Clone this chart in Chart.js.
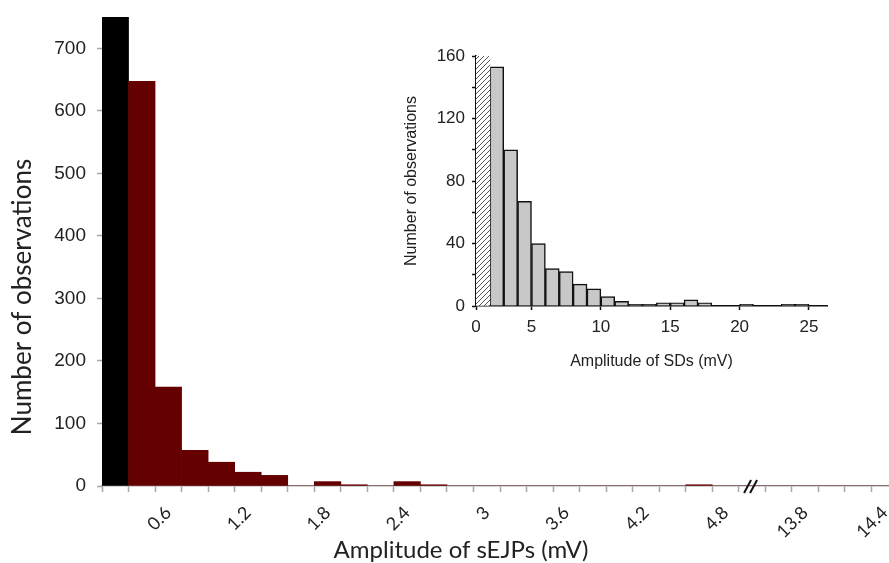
<!DOCTYPE html>
<html>
<head>
<meta charset="utf-8">
<script src="https://cdn.jsdelivr.net/npm/chart.js@4"></script>
<style>
  html, body { margin: 0; padding: 0; background: #fff; overflow: hidden; }
  #wrap { position: relative; width: 889px; height: 563px; }
  #main { position: absolute; left: 0; top: 0; }
  #inset { position: absolute; left: 390px; top: 40px; }
</style>
</head>
<body>
<div id="wrap">
  <canvas id="main" width="900" height="563"></canvas>
  <canvas id="inset" width="450" height="340"></canvas>
</div>
<script>
// main histogram: sEJP amplitude bins (upper bound of each 0.2 mV bin, axis broken after 4.8)
const sejpBins = ['0.2', '0.4', '0.6', '0.8', '1', '1.2', '1.4', '1.6', '1.8', '2', '2.2', '2.4',
  '2.6', '2.8', '3', '3.2', '3.4', '3.6', '3.8', '4', '4.2', '4.4', '4.6', '4.8',
  '', '13.6', '13.8', '14', '14.2', '14.4'];
const sejpCounts = [750, 647, 158, 57, 38, 22, 17, 0, 7, 2, 0, 7, 2, 0, 0, 0, 0, 0, 0, 0, 0, 0, 2, 0,
  0, 0, 0, 0, 0, 0];
const sejpYTicks = [0, 100, 200, 300, 400, 500, 600, 700];

// inset histogram: SD amplitudes, 1 mV bins starting at 2 mV (below 2 mV hatched)
const sdBinStart = [2, 3, 4, 5, 6, 7, 8, 9, 10, 11, 12, 13, 14, 15, 16, 17, 18, 19, 20, 21, 22, 23, 24];
const sdCounts = [153, 100, 67, 40, 24, 22, 14, 11, 6, 3, 1, 1, 2, 2, 4, 2, 0, 0, 1, 0, 0, 1, 1];
const sdHatchBin = [1];
const sdHatchHeight = [160];
const sdXTicks = [1, 5, 10, 15, 20, 25];

// drop the extra room chart.js keeps for tick labels, the layout padding decides instead
function noLabelPadding(s) {
  s.paddingTop = 0;
  s.paddingBottom = 0;
  s.paddingLeft = 0;
  s.paddingRight = 0;
}

const brokenAxis = {
  id: 'brokenAxis',
  afterDraw(chart) {
    const ctx = chart.ctx;
    const x = chart.scales.x.getPixelForValue(24) - 4;
    const y = chart.scales.y.getPixelForValue(0);
    ctx.save();
    ctx.strokeStyle = '#111';
    ctx.lineWidth = 2;
    [0, 6].forEach((dx) => {
      ctx.beginPath();
      ctx.moveTo(x + dx - 4, y + 7);
      ctx.lineTo(x + dx + 3, y - 6);
      ctx.stroke();
    });
    // axis titles (placed like the original figure, off-centre)
    ctx.fillStyle = '#222';
    ctx.textAlign = 'center';
    ctx.textBaseline = 'middle';
    ctx.font = '24px Lato';
    ctx.fillText('Amplitude of sEJPs (mV)', 461, 550);
    ctx.translate(23, 297);
    ctx.rotate(-Math.PI / 2);
    ctx.font = '26px Lato';
    ctx.fillText('Number of observations', 0, 0);
    ctx.restore();
  }
};

function mainChart() {
  const colors = sejpCounts.map((v, i) => i === 0 ? '#000000' : '#640000');

  const data = {
    labels: sejpBins,
    datasets: [{
      label: 'sEJPs',
      data: sejpCounts,
      backgroundColor: colors,
      borderWidth: 0,
      barPercentage: 1,
      categoryPercentage: 1
    }]
  };

  const config = {
    type: 'bar',
    data: data,
    plugins: [brokenAxis],
    options: {
      responsive: false,
      animation: false,
      layout: { padding: { top: 17, right: 2, left: 0, bottom: 0 } },
      plugins: { legend: { display: false }, tooltip: { enabled: false } },
      scales: {
        x: {
          offset: true,
          grid: { offset: true, drawOnChartArea: false, tickLength: 6, tickColor: '#a6a6a6', tickWidth: 1.5 },
          border: { color: '#a6a6a6', width: 1.5 },
          ticks: {
            autoSkip: false,
            minRotation: 45,
            maxRotation: 45,
            padding: 10,
            color: '#222',
            font: { family: 'Lato', size: 18 },
            callback: function (value, index) {
              return index % 3 === 2 ? this.getLabelForValue(value) : '';
            }
          },
          afterFit: (s) => { s.height = 77; noLabelPadding(s); }
        },
        y: {
          min: 0,
          max: 750,
          afterBuildTicks: (s) => { s.ticks = sejpYTicks.map((v) => ({ value: v })); },
          grid: { drawOnChartArea: false, tickLength: 5, tickColor: '#a6a6a6', tickWidth: 1.5 },
          border: { display: false },
          ticks: {
            padding: 11,
            color: '#222',
            font: { family: 'Liberation Sans', size: 19 }
          },
          afterFit: (s) => { s.width = 102; noLabelPadding(s); }
        }
      }
    }
  };

  new Chart(document.getElementById('main'), config);
}

function hatchPattern() {
  const pc = document.createElement('canvas');
  pc.width = 5;
  pc.height = 5;
  const c = pc.getContext('2d');
  c.fillStyle = '#fff';
  c.fillRect(0, 0, 5, 5);
  c.strokeStyle = '#555';
  c.lineWidth = 1;
  c.beginPath();
  c.moveTo(-1, 6); c.lineTo(6, -1);
  c.moveTo(-1, 1); c.lineTo(1, -1);
  c.moveTo(4, 6); c.lineTo(6, 4);
  c.stroke();
  return c.createPattern(pc, 'repeat');
}

function insetChart() {
  const sdPoints = sdBinStart.map((b, i) => ({ x: b + 0.5, y: sdCounts[i] }));
  const hatchPoints = sdHatchBin.map((b, i) => ({ x: b + 0.5, y: sdHatchHeight[i] }));

  const data = {
    datasets: [{
      label: 'below threshold',
      data: hatchPoints,
      backgroundColor: hatchPattern(),
      borderWidth: 0,
      barPercentage: 1,
      categoryPercentage: 1,
      grouped: false
    }, {
      label: 'SDs',
      data: sdPoints,
      backgroundColor: '#c8c8c8',
      borderColor: '#111',
      borderWidth: 1.5,
      barPercentage: 1,
      categoryPercentage: 1,
      grouped: false
    }]
  };

  const config = {
    type: 'bar',
    data: data,
    options: {
      responsive: false,
      animation: false,
      layout: { padding: { top: 16, right: 13, left: 0, bottom: 0 } },
      plugins: { legend: { display: false }, tooltip: { enabled: false } },
      scales: {
        x: {
          type: 'linear',
          min: 1,
          max: 26.3,
          offset: false,
          afterBuildTicks: (s) => { s.ticks = sdXTicks.map((v) => ({ value: v })); },
          grid: { offset: false, drawOnChartArea: false, tickLength: 4, tickColor: '#111', tickWidth: 1.5 },
          border: { color: '#111', width: 1.5 },
          ticks: {
            padding: 7,
            color: '#222',
            font: { family: 'Liberation Sans', size: 17 },
            callback: (v) => v === 1 ? '0' : v
          },
          title: {
            display: true,
            text: 'Amplitude of SDs (mV)',
            color: '#222',
            font: { family: 'Liberation Sans', size: 16 },
            padding: { top: 0, bottom: 9 }
          },
          afterFit: (s) => { s.height = 74; noLabelPadding(s); }
        },
        y: {
          min: 0,
          max: 160,
          ticks: {
            stepSize: 20,
            padding: 7,
            color: '#222',
            font: { family: 'Liberation Sans', size: 17 },
            callback: (v) => v % 40 === 0 ? v : ''
          },
          grid: { drawOnChartArea: false, tickLength: 4, tickColor: '#111', tickWidth: 1.5 },
          border: { color: '#111', width: 1.5 },
          title: {
            display: true,
            text: 'Number of observations',
            color: '#222',
            font: { family: 'Liberation Sans', size: 16 },
            padding: { top: 12, bottom: 0 }
          },
          afterFit: (s) => { s.width = 86; noLabelPadding(s); }
        }
      }
    }
  };

  new Chart(document.getElementById('inset'), config);
}

mainChart();
insetChart();
</script>
</body>
</html>
